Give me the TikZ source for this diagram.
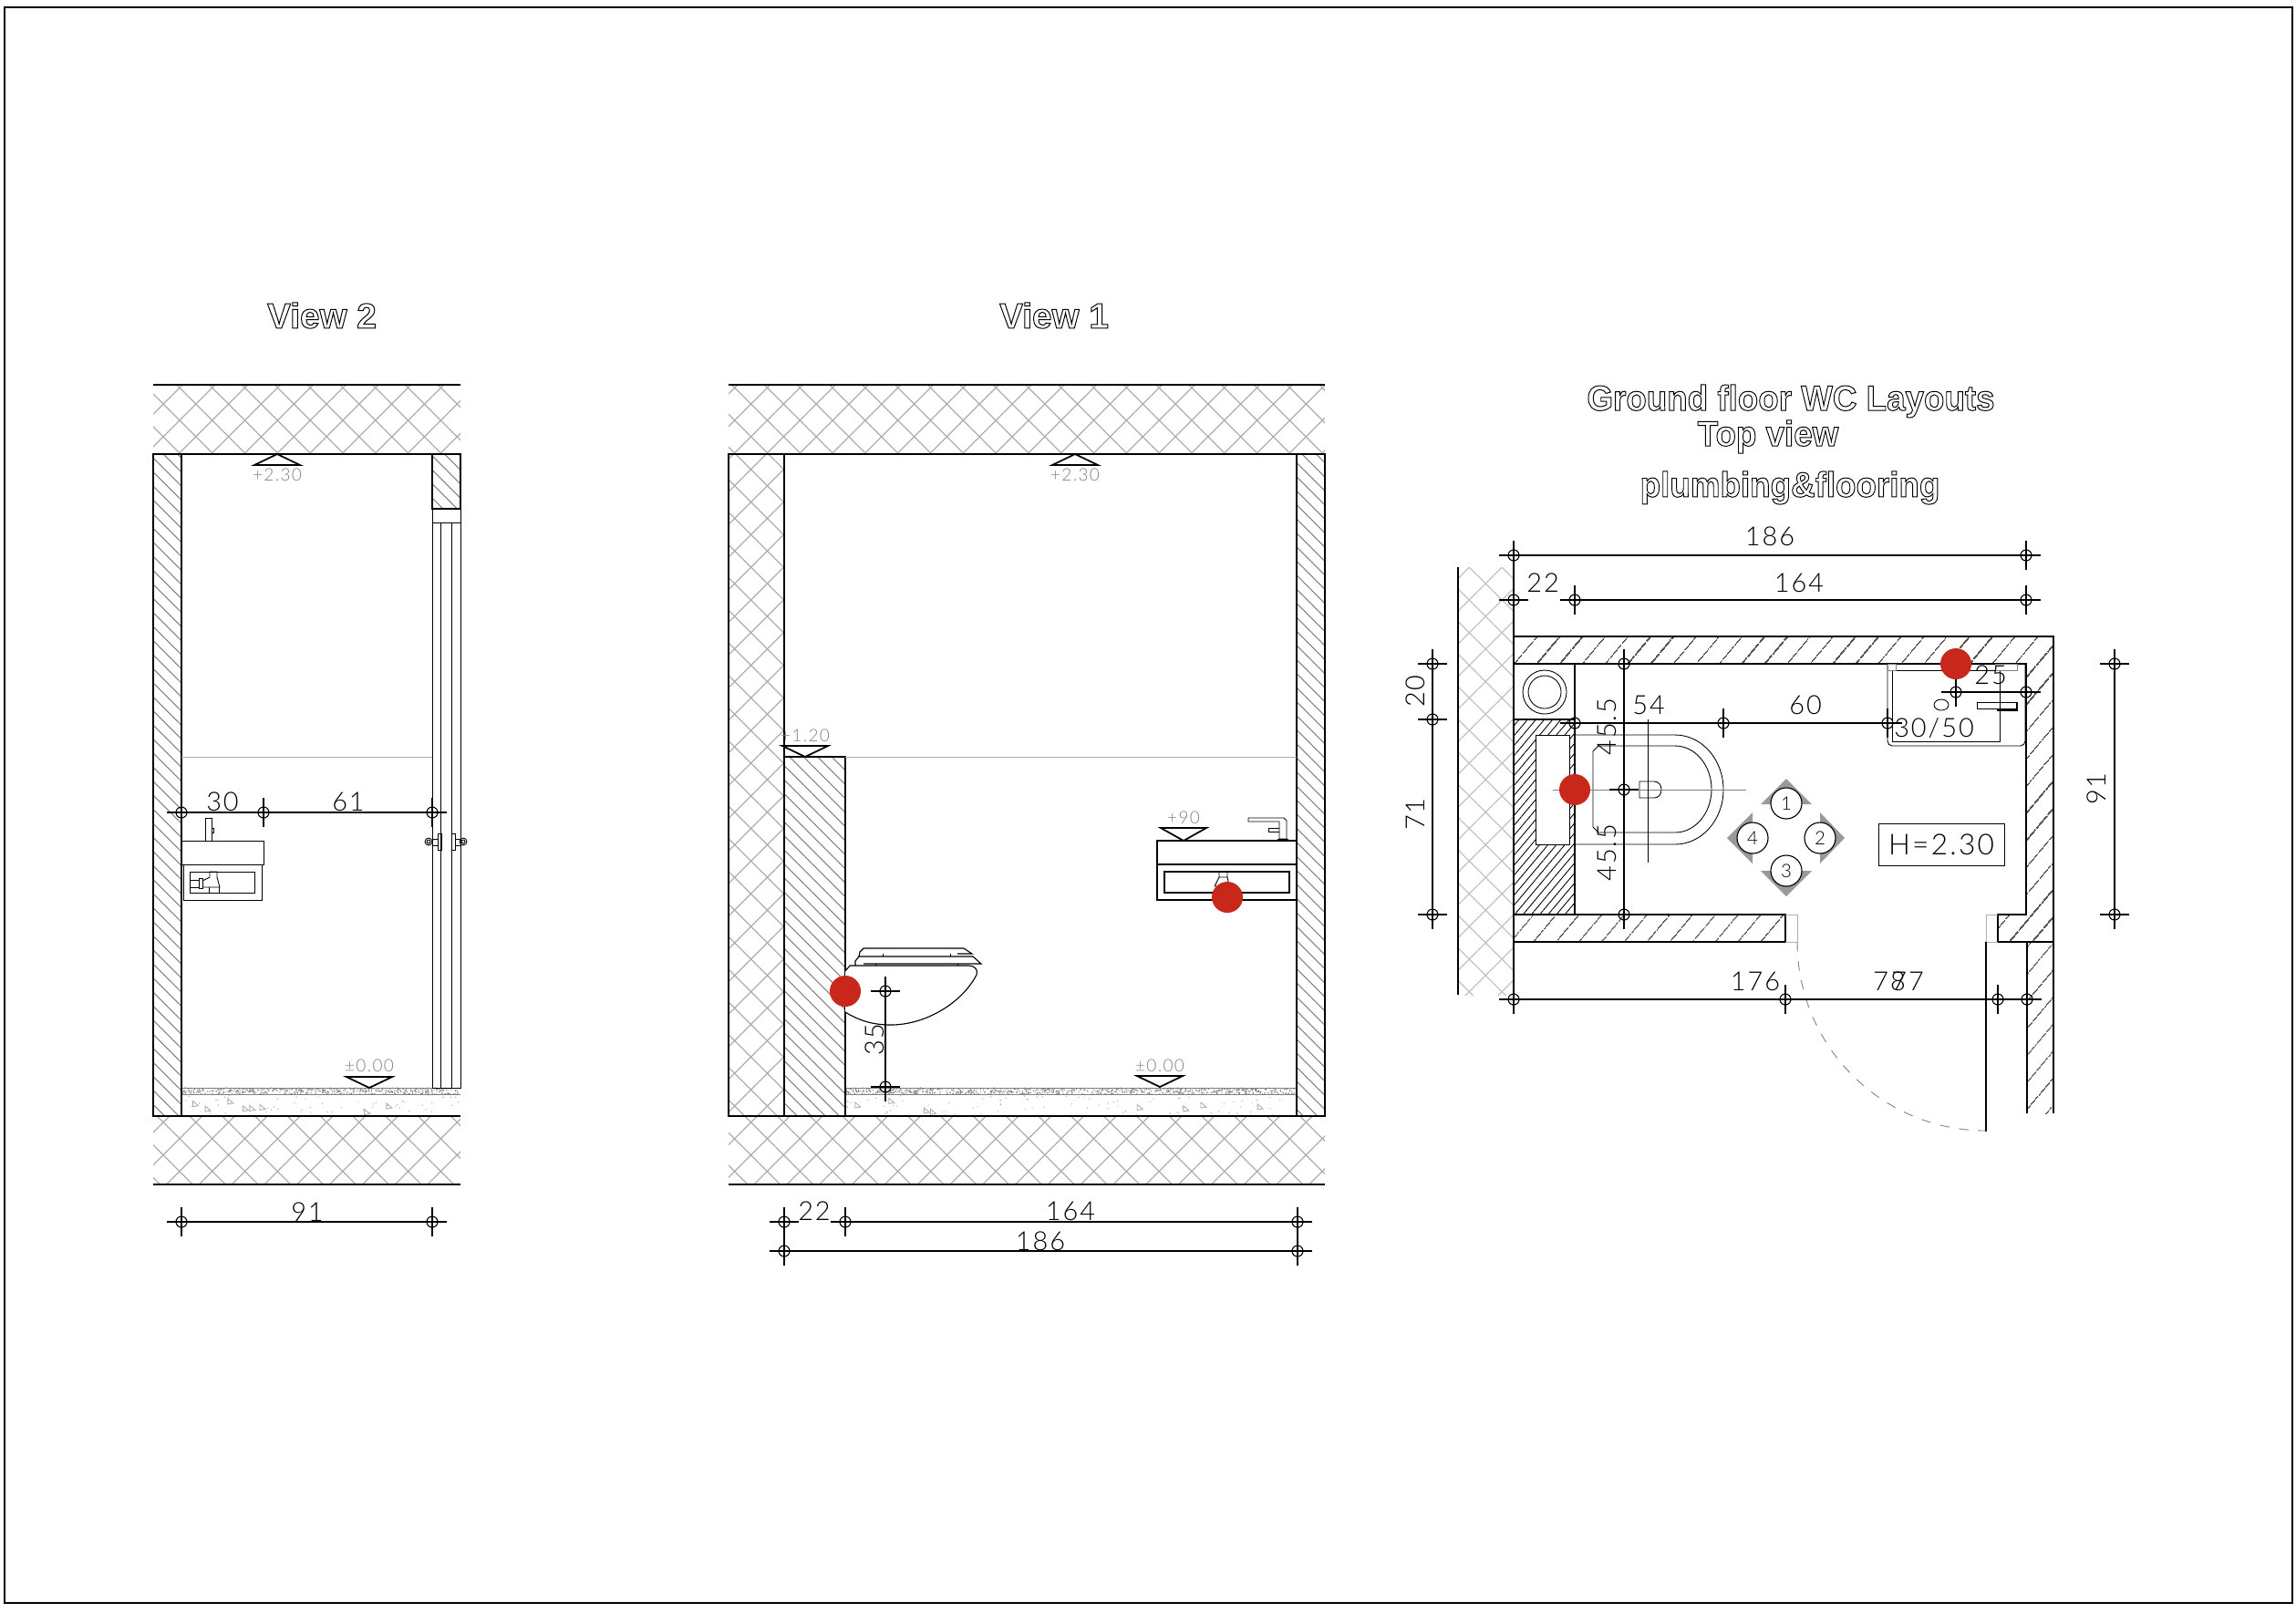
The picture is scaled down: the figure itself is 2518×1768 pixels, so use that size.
\documentclass[tikz,border=0pt]{standalone}
\usepackage{fontspec}
\setmainfont{Liberation Sans}
\newfontfamily\dimfont[LetterSpace=7]{Lato Light}
\usetikzlibrary{patterns.meta}

\definecolor{pipered}{HTML}{C8281C}
\definecolor{hatchgray}{gray}{0.68}
\definecolor{levelgray}{gray}{0.5}
\definecolor{compassgray}{gray}{0.6}

% outlined lettering of the titles
\newcommand{\outlined}[1]{\special{pdf:literal direct 1 Tr 0.28 w}#1\special{pdf:literal direct 0 Tr}}

% dimension mark: small circle with a cross
\newcommand{\dimcross}[2]{
  \node[dimdot] (#1) at (#2) {};
  \draw[dimline] (#2) +(-16,0) -- +(16,0) (#2) +(0,-16) -- +(0,16);
}
% level mark: name, x, apex y, base y, text y, text
\newcommand{\levelmark}[6]{
  \draw[heavyline] (#2,#3) -- (#2-25,#4) -- (#2+25,#4) -- cycle;
  \node[leveltext] (#1) at (#2,#5) {#6};
}
% floor build-up: from x, to x, dense dots, sparse dots
\newcommand{\floorfill}[4]{
  \draw[thinline,levelgray] (#1,1193) -- (#2,1193) (#1,1200) -- (#2,1200);
  \fill[levelgray] \foreach \k in {1,...,#3} {({#1+rnd*(#2-#1)},{1193+rnd*7}) circle[radius=0.7]};
  \fill[hatchgray] \foreach \k in {1,...,#4} {({#1+rnd*(#2-#1)},{1200+rnd*24}) circle[radius=0.7]};
  \foreach \k in {1,...,8} {
    \pgfmathsetmacro{\tx}{#1+rnd*(#2-#1-8)}
    \pgfmathsetmacro{\ty}{1203+rnd*15}
    \draw[thinline,hatchgray] (\tx,\ty) -- (\tx+6,\ty+5) -- (\tx,\ty+6) -- cycle;
  }
}

\begin{document}
\begin{tikzpicture}[
    x=0.01cm, y=-0.01cm,
    heavyline/.style={line width=0.5pt},
    thinline/.style={line width=0.25pt},
    dimline/.style={line width=0.32pt},
    dimdot/.style={circle, draw, line width=0.32pt, inner sep=0, minimum size=0.12cm},
    dimtext/.style={font=\dimfont\fontsize{8.2}{9}\selectfont, inner sep=0},
    leveltext/.style={font=\dimfont\fontsize{5.4}{6}\selectfont, text=levelgray, inner sep=0},
    titletext/.style={font=\bfseries\fontsize{11}{12}\selectfont, inner sep=0},
    plantitle/.style={titletext, xscale=0.95, transform shape},
    reddot/.style={circle, fill=pipered, inner sep=0, minimum size=0.34cm},
    crosswall/.style={pattern={Hatch[angle=45,distance=7.2pt,line width=0.35pt]}, pattern color=hatchgray},
    linewall/.style={pattern={Lines[angle=-45,distance=3.1pt,line width=0.3pt]}, pattern color=levelgray},
    planwall/.style={pattern={Lines[angle=50,distance=5.4pt,line width=0.28pt]}, pattern color=black},
    planblock/.style={pattern={Lines[angle=50,distance=2pt,line width=0.25pt]}, pattern color=black},
    compassnode/.style={circle, draw, fill=white, line width=0.32pt, inner sep=0, minimum size=0.34cm,
      font=\dimfont\fontsize{5.8}{6}\selectfont},
    compassarrow/.style={fill=compassgray},
  ]
  \useasboundingbox (0,0) rectangle (2518,1768);
  \draw[dimline] (5,8) rectangle (2514,1758);
  \pgfmathsetseed{11}

  % View 2
  \node[titletext] (titletwo) at (353,346) {\outlined{View 2}};
  \path[crosswall] (168,422) rectangle (505,498);
  \path[crosswall] (168,1224) rectangle (505,1299);
  \floorfill{199}{505}{500}{60}
  \draw[heavyline,linewall] (168,498) rectangle (199,1224);
  \draw[heavyline,linewall] (474,498) rectangle (505,558);
  \draw[heavyline] (168,422) -- (505,422) (168,498) -- (505,498);
  \draw[heavyline] (168,1224) -- (505,1224) (168,1299) -- (505,1299);
  \draw[thinline,hatchgray] (199,830) -- (474,830);
  \draw[thinline] (474,558) -- (474,1193) -- (505,1193) -- (505,558);
  \draw[thinline] (474,573) -- (505,573) (483,573) -- (483,1193) (495,573) -- (495,1193);
  % door handles
  \draw[thinline] (480,914) rectangle (484,932) (474,920) rectangle (480,927);
  \draw[thinline] (495,914) rectangle (499,932) (499,920) rectangle (505,927);
  \draw[thinline] (470,923) circle[radius=4] (470,923) circle[radius=2];
  \draw[thinline] (508,923) circle[radius=4] (508,923) circle[radius=2];
  % basin side
  \draw[thinline] (199,922) rectangle (289,948) (201,948) rectangle (287,987);
  \draw[thinline] (208,956) rectangle (279,979);
  \draw[thinline] (225,897) rectangle (232,922) (232,908) rectangle (234,913);
  \draw[thinline] (208,965) -- (218,965) (208,973) -- (218,973) (218,963) rectangle (222,974);
  \draw[thinline] (222,966) -- (230,962) -- (230,956) -- (238,956) -- (238,962) -- (241,973) -- (222,973);
  \draw[thinline] (229,973) -- (229,979) (240,973) -- (240,979);
  \levelmark{leveltwotop}{304}{498}{510}{521}{+2.30}
  \levelmark{leveltwofloor}{405}{1193}{1181}{1169}{±0.00}
  \dimcross{twoa}{199,891}
  \dimcross{twob}{289,891}
  \dimcross{twoc}{474,891}
  \draw[dimline] (twoa) -- (twob);
  \draw[dimline] (twob) -- (twoc);
  \node[dimtext] (lblthirty) at (244,879) {30};
  \node[dimtext] (lblsixtyone) at (382,879) {61};
  \dimcross{twod}{199,1340}
  \dimcross{twoe}{474,1340}
  \draw[dimline] (twod) -- (twoe);
  \node[dimtext] (lblninetyone) at (337,1329) {91};

  % View 1
  \node[titletext] (titleone) at (1156,346) {\outlined{View 1}};
  \path[crosswall] (799,422) rectangle (1453,498);
  \path[crosswall] (799,1224) rectangle (1453,1299);
  \floorfill{927}{1422}{800}{90}
  \draw[heavyline,crosswall] (799,498) rectangle (860,1224);
  \draw[heavyline,linewall] (860,830) rectangle (927,1224);
  \draw[heavyline,linewall] (1422,498) rectangle (1453,1224);
  \draw[heavyline] (799,422) -- (1453,422) (799,498) -- (1453,498);
  \draw[heavyline] (799,1224) -- (1453,1224) (799,1299) -- (1453,1299);
  \draw[thinline,hatchgray] (927,830) -- (1422,830);
  % basin front
  \draw[dimline] (1269,922) rectangle (1422,948) (1269,948) rectangle (1422,987);
  \draw[dimline] (1277,956) rectangle (1414,979);
  \draw[thinline] (1337,956) rectangle (1346,962) (1337,962) -- (1332,972) (1346,962) -- (1348,972) (1332,972) -- (1348,972);
  \draw[thinline] (1369,897) -- (1408,897) -- (1411,900) -- (1411,920) -- (1403,920) -- (1403,901) -- (1369,901) -- cycle;
  \draw[thinline] (1403,908) -- (1391,908) -- (1391,912) -- (1403,912) (1401,920) -- (1412,920) -- (1412,922) -- (1401,922) -- cycle;
  % wall hung toilet
  \draw[dimline,fill=white] (927,1065) -- (932,1059) -- (1063,1059) .. controls (1069,1059) and (1073,1064) .. (1071,1069)
    .. controls (1055,1100) and (1015,1124) .. (977,1124) .. controls (955,1124) and (940,1118) .. (927,1110);
  \draw[dimline] (938,1059) -- (938,1054) -- (942,1049) -- (1067,1049) -- (1076,1057) -- (947,1057);
  \draw[dimline] (942,1049) -- (943,1044) -- (947,1040) -- (1057,1040) -- (1066,1046) -- (1050,1046);
  \draw[thinline] (968,1046) -- (968,1049) (1042,1046) -- (1042,1049) (960,1057) -- (960,1059) (1050,1057) -- (1050,1059);
  \levelmark{levelonetop}{1179}{498}{510}{521}{+2.30}
  \levelmark{levelonefloor}{1272}{1192}{1180}{1169}{±0.00}
  \levelmark{levelonebench}{883}{830}{818}{807}{+1.20}
  \levelmark{levelonebasin}{1298}{922}{908}{897}{+90}
  \dimcross{onea}{971,1087}
  \dimcross{oneb}{971,1192}
  \draw[dimline] (onea) -- (oneb);
  \node[dimtext, rotate=90] (lblthirtyfive) at (959,1140) {35};
  \dimcross{onec}{860,1340}
  \dimcross{oned}{927,1340}
  \dimcross{onee}{1423,1340}
  \dimcross{onef}{860,1372}
  \dimcross{oneg}{1423,1372}
  \draw[dimline] (oned) -- (onee);
  \draw[dimline] (onef) -- (oneg);
  \node[dimtext] (lbltwentytwo) at (893,1328) {22};
  \node[dimtext] (lblonesixtyfour) at (1174,1328) {164};
  \node[dimtext] (lbloneeightysix) at (1141,1361) {186};
  \node[reddot] (redtoilet) at (927,1087) {};
  \node[reddot] (redbasin) at (1346,984) {};

  % Top view
  \node[plantitle] (titletop) at (1964,440) {\outlined{Ground floor WC Layouts}};
  \node[plantitle] (titleview) at (1939,479) {\outlined{Top view}};
  \node[plantitle] (titleplumb) at (1963,535) {\outlined{plumbing\&flooring}};
  \path[crosswall, pattern color=hatchgray!75] (1599,622) rectangle (1660,1091);
  \draw[heavyline] (1599,622) -- (1599,1091) (1660,622) -- (1660,1096);
  \draw[heavyline,planwall] (1660,698) -- (2252,698) -- (2252,1033) -- (2191,1033) -- (2191,1003) -- (2222,1003) -- (2222,728) -- (1660,728) -- cycle;
  \draw[heavyline,planwall] (1660,1003) rectangle (1958,1033);
  \draw[thinline,hatchgray] (1958,1003) -- (1971,1003) -- (1971,1033) -- (1958,1033);
  \draw[thinline,hatchgray] (2191,1003) -- (2178,1003) -- (2178,1033) -- (2191,1033);
  \path[planwall] (2223,1033) rectangle (2252,1221);
  \draw[heavyline] (2223,1221) -- (2223,1033) -- (2252,1033) -- (2252,1221);
  \draw[heavyline] (2178,1033) -- (2178,1241);
  \draw[thinline,levelgray,dashed] (1971,1033) arc[start angle=180, end angle=90, radius=207];
  % riser and plumbing block
  \draw[heavyline] (1660,728) rectangle (1727,789);
  \draw[thinline] (1694,759) circle[radius=24] (1694,759) circle[radius=18];
  \draw[heavyline,planblock] (1660,789) rectangle (1727,1003);
  \draw[thinline,fill=white] (1684,806) rectangle (1721,926);
  % toilet from above
  \draw[thinline] (1727,806) -- (1837,806) arc[start angle=-90, end angle=90, x radius=53, y radius=60] -- (1727,926);
  \draw[thinline] (1837,818) -- (1753,818) -- (1747,824) -- (1747,907) -- (1753,913) -- (1837,913);
  \draw[thinline] (1837,818) arc[start angle=-90, end angle=90, x radius=40, y radius=47.5];
  \draw[thinline] (1798,857) -- (1814,857) .. controls (1819,857) and (1822,861) .. (1822,866) .. controls (1822,871) and (1819,875) .. (1814,875) -- (1798,875) -- cycle;
  \draw[thinline,levelgray] (1703,866) -- (1915,866);
  \draw[thinline] (1807,789) -- (1807,946);
  % basin from above
  \draw[thinline,rounded corners=1.5] (2070,728) -- (2070,818) -- (2221,818) -- (2221,728);
  \draw[thinline] (2075,735) -- (2075,813) -- (2193,813) -- (2193,735) -- cycle;
  \draw[thinline,levelgray] (2070,728) rectangle (2079,735) (2188,728) rectangle (2212,735);
  \draw[thinline] (2129,773) ellipse[x radius=8, y radius=6];
  \draw[thinline] (2168,770) rectangle (2212,777);
  \draw[dimline] (2190,779) -- (2212,779) -- (2212,770);
  % orientation arrows
  \fill[compassarrow] (1959,854) -- (1931,882) -- (1987,882) -- cycle;
  \fill[compassarrow] (1959,983) -- (1931,955) -- (1987,955) -- cycle;
  \fill[compassarrow] (2023,919) -- (1996,891) -- (1996,947) -- cycle;
  \fill[compassarrow] (1894,919) -- (1922,891) -- (1922,947) -- cycle;
  \node[compassnode] (sideone) at (1959,881) {1};
  \node[compassnode] (sidetwo) at (1996,919) {2};
  \node[compassnode] (sidethree) at (1959,955) {3};
  \node[compassnode] (sidefour) at (1922,919) {4};
  \node[draw, thinline, minimum width=1.38cm, minimum height=0.46cm, inner sep=0,
    font=\dimfont\fontsize{9}{10}\selectfont] (heightbox) at (2129,926) {H=2.30};
  % dimensions
  \dimcross{topa}{1660,609}
  \dimcross{topb}{2222,609}
  \draw[dimline] (topa) -- (topb);
  \node[dimtext] (lbltopall) at (1941,588) {186};
  \dimcross{topc}{1660,658}
  \dimcross{topd}{1727,658}
  \dimcross{tope}{2222,658}
  \draw[dimline] (topd) -- (tope);
  \node[dimtext] (lbltopwall) at (1692,639) {22};
  \node[dimtext] (lbltoproom) at (1973,639) {164};
  \dimcross{topf}{1727,793}
  \dimcross{topg}{1890,793}
  \dimcross{toph}{2070,793}
  \draw[dimline] (topf) -- (topg);
  \draw[dimline] (topg) -- (toph);
  \node[dimtext] (lblfiftyfour) at (1808,773) {54};
  \node[dimtext] (lblsixty) at (1980,773) {60};
  \node[dimtext] (lblbasin) at (2121,799) {30/50};
  \dimcross{topi}{1781,728}
  \dimcross{topj}{1781,866}
  \dimcross{topk}{1781,1003}
  \draw[dimline] (topi) -- (topj);
  \draw[dimline] (topj) -- (topk);
  \node[dimtext, rotate=90] (lblhalfa) at (1762,797) {45.5};
  \node[dimtext, rotate=90] (lblhalfb) at (1762,935) {45.5};
  \dimcross{topl}{1571,728}
  \dimcross{topm}{1571,789}
  \dimcross{topn}{1571,1003}
  \draw[dimline] (topl) -- (topm);
  \draw[dimline] (topm) -- (topn);
  \node[dimtext, rotate=90] (lbltwenty) at (1552,758) {20};
  \node[dimtext, rotate=90] (lblseventyone) at (1552,893) {71};
  \dimcross{topo}{2319,728}
  \dimcross{topp}{2319,1003}
  \draw[dimline] (topo) -- (topp);
  \node[dimtext, rotate=90] (lblrightall) at (2299,865) {91};
  \dimcross{topq}{2145,759}
  \dimcross{topr}{2222,759}
  \draw[dimline] (topq) -- (topr);
  \node[dimtext] (lbltwentyfive) at (2183,740) {25};
  \dimcross{tops}{1660,1096}
  \dimcross{topt}{1958,1096}
  \dimcross{topu}{2191,1096}
  \dimcross{topv}{2223,1096}
  \draw[dimline] (tops) -- (topt);
  \draw[dimline] (topt) -- (topu);
  \draw[dimline] (topu) -- (topv);
  \node[dimtext] (lbloneseventysix) at (1925,1076) {176};
  \node[dimtext] (lblseventyeight) at (2072,1076) {78};
  \node[dimtext] (lblseventyseven) at (2092,1076) {77};
  \node[reddot] (redplumb) at (1727,866) {};
  \node[reddot] (redsink) at (2145,728) {};
\end{tikzpicture}
\end{document}
